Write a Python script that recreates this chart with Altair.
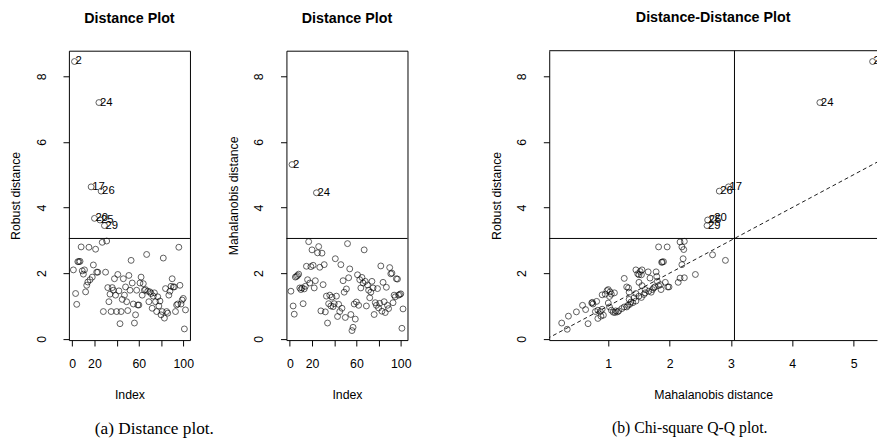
import altair as alt
import pandas as pd

FONT = "Liberation Sans"
SERIF = "Liberation Serif"

# ---------------- data ----------------
index = list(range(1, 103))
robust_dist = [
    2.10, 8.45, 1.38, 1.05, 2.35, 2.35, 2.36, 2.80, 2.07, 1.97,
    2.10, 1.43, 1.63, 1.73, 2.79, 1.80, 4.63, 1.88, 2.25, 3.67,
    2.73, 2.03, 2.03, 7.20, 3.62, 4.50, 2.94, 0.83, 3.45, 2.03,
    2.98, 1.56, 1.13, 1.36, 0.83, 1.56, 1.48, 1.83, 1.33, 0.83,
    1.96, 1.46, 0.46, 0.83, 1.20, 1.83, 1.33, 1.58, 1.13, 0.86,
    1.93, 1.48, 2.39, 1.70, 1.06, 0.48, 0.73, 1.48, 1.03, 1.03,
    1.70, 1.88, 1.33, 1.68, 1.48, 1.50, 2.57, 1.45, 1.13, 1.43,
    1.38, 0.93, 1.30, 1.40, 1.13, 0.83, 1.28, 1.00, 1.15, 0.73,
    0.83, 2.46, 0.63, 1.53, 0.83, 0.78, 1.33, 1.45, 1.60, 1.83,
    1.58, 1.58, 0.83, 1.03, 1.06, 2.79, 1.63, 1.06, 1.18, 1.23,
    0.30, 0.88,
]
maha_dist = [
    1.45, 5.31, 1.00, 0.75, 1.88, 1.90, 1.93, 1.97, 1.55, 1.50,
    1.55, 1.07, 1.52, 1.60, 2.21, 1.80, 2.96, 1.70, 2.20, 2.71,
    2.24, 1.55, 1.77, 4.45, 2.62, 2.81, 2.18, 0.85, 2.61, 1.65,
    2.26, 0.82, 1.30, 0.48, 1.07, 1.33, 1.00, 1.27, 0.98, 1.07,
    2.44, 1.30, 0.68, 1.05, 0.83, 2.26, 0.93, 1.77, 1.42, 0.65,
    1.52, 2.90, 1.86, 2.13, 0.74, 0.25, 0.35, 1.06, 0.60, 1.12,
    1.95, 1.02, 1.80, 1.55, 1.87, 1.70, 2.71, 1.75, 1.00, 1.64,
    1.48, 1.25, 1.42, 1.75, 1.55, 0.74, 1.10, 1.02, 1.53, 0.94,
    1.08, 2.22, 0.84, 1.72, 1.13, 0.80, 1.57, 1.02, 0.92, 2.17,
    1.98, 2.00, 1.10, 1.33, 1.28, 1.83, 1.82, 1.33, 1.35, 1.37,
    0.32, 0.91,
]

# Distance-distance plot: regular observations (Mahalanobis, robust)
dd_maha = [
    0.24, 0.33, 0.35, 0.48, 0.58, 0.63, 0.67, 0.73, 0.75, 0.74,
    0.81, 0.79, 0.83, 0.87, 0.90, 0.83, 0.88, 0.90, 0.95, 0.98,
    1.00, 1.03, 1.05, 1.02, 1.00, 1.02, 1.05, 1.08, 1.11, 1.15,
    1.17, 1.22, 1.26, 1.30, 1.32, 1.26, 1.30, 1.33, 1.34, 1.34,
    1.37, 1.40, 1.42, 1.45, 1.45, 1.48, 1.52, 1.55, 1.54, 1.50,
    1.50, 1.55, 1.45, 1.50, 1.54, 1.58, 1.60, 1.66, 1.65, 1.68,
    1.72, 1.74, 1.76, 1.70, 1.78, 1.79, 1.80, 1.82, 1.85, 1.86,
    1.88, 1.90, 1.87, 1.93, 1.97, 1.99, 1.82, 1.96, 2.14, 2.17,
    2.24, 2.20, 2.22, 2.23, 2.20, 2.24, 2.17, 2.42, 2.70, 2.91,
    1.10, 1.12, 1.35, 1.60, 0.92,
]
dd_robust = [
    0.48, 0.29, 0.69, 0.82, 1.02, 0.89, 0.46, 1.09, 1.06, 1.11,
    1.14, 0.83, 0.87, 0.83, 0.90, 0.62, 0.69, 1.34, 1.36, 1.47,
    1.50, 1.43, 1.36, 1.29, 1.09, 0.97, 0.87, 0.81, 0.80, 0.82,
    0.85, 0.92, 0.97, 0.97, 1.02, 1.84, 1.58, 1.55, 1.42, 1.20,
    1.12, 1.10, 1.25, 1.38, 2.10, 1.98, 2.05, 2.10, 1.95, 1.95,
    1.72, 1.62, 1.15, 1.30, 1.26, 1.35, 1.40, 1.45, 2.04, 1.85,
    1.50, 1.55, 1.58, 1.42, 2.04, 1.90, 1.75, 1.62, 1.65, 1.50,
    2.34, 2.35, 2.33, 1.72, 1.58, 1.58, 2.80, 2.80, 1.72, 1.85,
    1.86, 2.26, 2.44, 2.72, 2.80, 2.97, 2.95, 1.96, 2.56, 2.39,
    1.40, 0.85, 1.05, 1.50, 0.72,
]
# Outlying observations in the distance-distance plot
dd_out_id = [2, 24, 17, 26, 20, 25, 29]
dd_out_maha = [5.31, 4.45, 2.96, 2.81, 2.71, 2.62, 2.61]
dd_out_robust = [8.45, 7.20, 4.63, 4.50, 3.67, 3.62, 3.45]

cutoff = 3.0575
identity_line = [0.0, 6.0]

y_ticks = [0, 2, 4, 6, 8]
idx_ticks = [0, 20, 40, 60, 80, 100]
md_ticks = [1, 2, 3, 4, 5]

Y_DOM = [-0.04, 8.78]
IDX_DOM = [-3.04, 106.04]
MD_DOM = [0.037, 5.382]

# ---------------- frames ----------------
df = pd.DataFrame({"Index": index, "RD": robust_dist, "MD": maha_dist})
df["lab"] = df["Index"].astype(str)
dd = pd.DataFrame({"MD": dd_maha, "RD": dd_robust})
dd_out = pd.DataFrame({"MD": dd_out_maha, "RD": dd_out_robust,
                       "lab": [str(i) for i in dd_out_id]})
dd_all = pd.concat([dd, dd_out[["MD", "RD"]]], ignore_index=True)
cut_df = pd.DataFrame({"c": [cutoff]})
line_df = pd.DataFrame({"v": identity_line})
top_df = pd.DataFrame({"t": [Y_DOM[1]]})


def y_axis(title, domain=False):
    return alt.Axis(
        title=title, values=y_ticks, format="d", grid=False, domain=domain,
        domainColor="black", domainWidth=1,
        tickSize=6, tickColor="black", tickWidth=1,
        labelAngle=-90, labelAlign="center", labelBaseline="bottom",
        labelPadding=15, labelFlush=False, labelOverlap=False,
        labelFont=FONT, labelFontSize=12.5, labelColor="black",
        titleFont=FONT, titleFontSize=12.5, titleFontWeight="normal",
        titleColor="black", titlePadding=13,
    )


def x_axis(title, values, expr=None, domain=False):
    kw = dict(
        title=title, values=values, format="d", grid=False, domain=domain,
        domainColor="black", domainWidth=1,
        tickSize=6, tickColor="black", tickWidth=1,
        labelPadding=12, labelFlush=False, labelOverlap=False,
        labelFont=FONT, labelFontSize=12.5, labelColor="black",
        titleFont=FONT, titleFontSize=12.5, titleFontWeight="normal",
        titleColor="black", titlePadding=19,
    )
    if expr:
        kw["labelExpr"] = expr
    return alt.Axis(**kw)


def panel_title(text):
    return alt.TitleParams(text=text, font=FONT, fontSize=14.5, fontWeight="bold",
                           color="black", anchor="middle", offset=25)


PT = dict(shape="circle", filled=False, color="black", size=36, strokeWidth=0.9)
LAB = dict(align="left", baseline="middle", dx=1, fontSize=11.5, font=FONT,
           color="black")
hide_expr = "(datum.value == 40 || datum.value == 80) ? '' : datum.label"


def index_panel(field, ytitle):
    base = alt.Chart(df)
    xenc = alt.X("Index:Q", scale=alt.Scale(domain=IDX_DOM, nice=False, zero=False),
                 axis=x_axis("Index", idx_ticks, hide_expr))
    yenc = alt.Y(f"{field}:Q", scale=alt.Scale(domain=Y_DOM, nice=False, zero=False),
                 axis=y_axis(ytitle))
    pts = base.mark_point(**PT).encode(x=xenc, y=yenc)
    labs = base.transform_filter(f"datum.{field} > {cutoff}").mark_text(**LAB).encode(
        x=xenc, y=yenc, text="lab:N")
    cut = alt.Chart(cut_df).mark_rule(color="black", strokeWidth=1).encode(
        y=alt.Y("c:Q", scale=alt.Scale(domain=Y_DOM, nice=False, zero=False),
                axis=y_axis(ytitle)))
    return alt.layer(pts, labs, cut).properties(
        width=123, height=294, title=panel_title("Distance Plot"))


p1 = index_panel("RD", "Robust distance")
p2 = index_panel("MD", "Mahalanobis distance")

xs3 = alt.Scale(domain=MD_DOM, nice=False, zero=False)
ys3 = alt.Scale(domain=Y_DOM, nice=False, zero=False)
X3 = dict(scale=xs3, axis=x_axis("Mahalanobis distance", md_ticks, domain=True))
Y3 = dict(scale=ys3, axis=y_axis("Robust distance", domain=True))
pts3 = alt.Chart(dd_all).mark_point(**PT, clip=True).encode(
    x=alt.X("MD:Q", **X3), y=alt.Y("RD:Q", **Y3))
labs3 = alt.Chart(dd_out).mark_text(**LAB, clip=True).encode(
    x=alt.X("MD:Q", **X3), y=alt.Y("RD:Q", **Y3), text="lab:N")
diag = alt.Chart(line_df).mark_line(color="black", strokeWidth=0.9,
                                    strokeDash=[4, 3], clip=True).encode(
    x=alt.X("v:Q", **X3), y=alt.Y("v:Q", **Y3))
hcut = alt.Chart(cut_df).mark_rule(color="black", strokeWidth=1).encode(
    y=alt.Y("c:Q", **Y3))
vcut = alt.Chart(cut_df).mark_rule(color="black", strokeWidth=1).encode(
    x=alt.X("c:Q", **X3))
frame_top = alt.Chart(top_df).mark_rule(color="black", strokeWidth=1).encode(
    y=alt.Y("t:Q", **Y3))
p3 = alt.layer(diag, pts3, labs3, hcut, vcut, frame_top).properties(
    width=333, height=294, title=panel_title("Distance-Distance Plot"),
    view=alt.ViewBackground(stroke="transparent"))


def caption(text, dx, size):
    return alt.TitleParams(text=text, orient="bottom", anchor="middle", font=SERIF,
                           fontSize=size, fontWeight="normal", color="black",
                           dx=dx, offset=19)


group_a = alt.hconcat(p1, p2, spacing=32,
                      title=caption("(a) Distance plot.", -57, 17.5))
group_b = alt.hconcat(p3, title=caption("(b) Chi-square Q-Q plot.", 6, 16))

chart = alt.hconcat(group_a, group_b, spacing=78).configure(
    padding={"left": 9, "top": 6, "right": 0, "bottom": 0},
    background="white",
).configure_view(stroke="black", strokeWidth=1)

chart.save("out.html", embed_options={"renderer": "svg", "actions": False})
